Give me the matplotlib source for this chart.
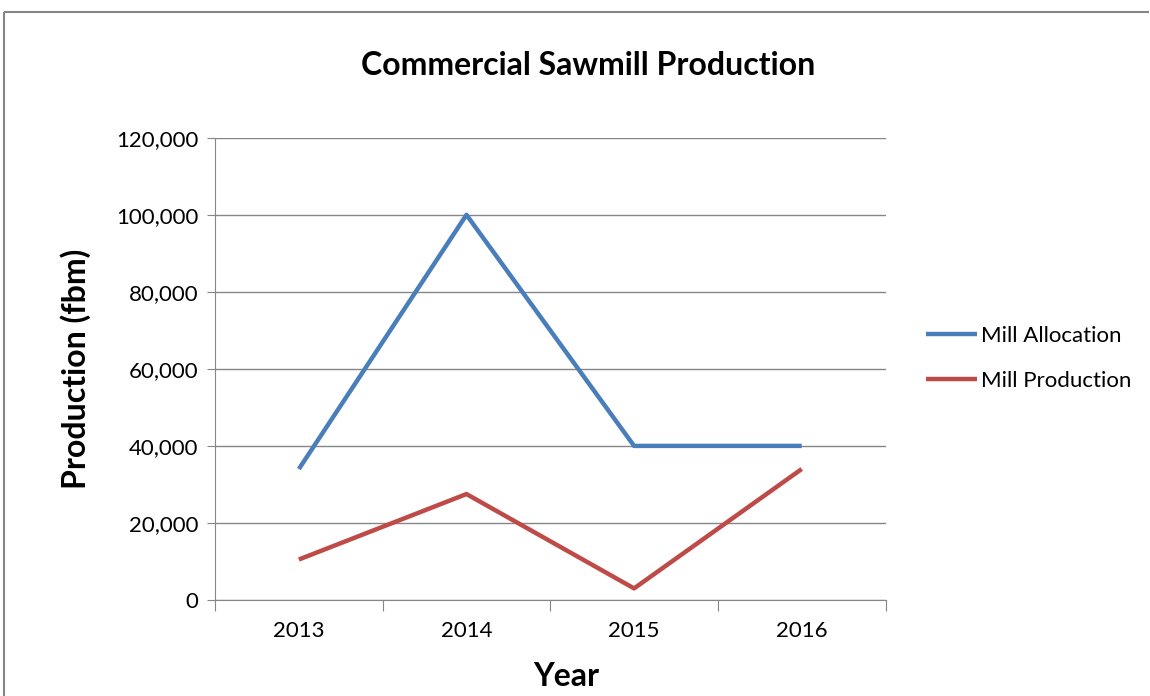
import numpy as np
import matplotlib.pyplot as plt
from matplotlib.lines import Line2D
from matplotlib.ticker import FuncFormatter

years = ["2013", "2014", "2015", "2016"]
mill_allocation = [34000, 100000, 40000, 40000]
mill_production = [10500, 27500, 3000, 34000]

plt.rcParams['font.family'] = ['Lato', 'DejaVu Sans']

fig = plt.figure(figsize=(11.5, 6.96), dpi=100)
ax = fig.add_axes([0.187, 0.138, 0.583, 0.664])

pos = np.arange(len(years)) + 0.5
ax.plot(pos, mill_allocation, color='#4A7EBB', lw=3.2, label="Mill Allocation",
        solid_capstyle='butt')
ax.plot(pos, mill_production, color='#BE4B48', lw=3.2, label="Mill Production",
        solid_capstyle='butt')

ax.set_xlim(0, len(years))
ax.set_ylim(0, 120000)
ax.set_yticks(np.arange(0, 120001, 20000))
ax.yaxis.set_major_formatter(FuncFormatter(lambda v, p: "{:,.0f}".format(v)))
ax.set_xticks(np.arange(0, len(years) + 1))
ax.set_xticklabels([])
ax.set_xticks(pos, minor=True)
ax.set_xticklabels(years, minor=True)
ax.tick_params(axis='x', which='major', length=8, direction='out', color='#868686')
ax.tick_params(axis='x', which='minor', length=0, pad=15, labelsize=16)
ax.tick_params(axis='y', length=6, color='#868686', labelsize=16, pad=6)

ax.grid(axis='y', color='#868686', lw=1)
ax.set_axisbelow(True)
for side in ['top', 'right']:
    ax.spines[side].set_visible(False)
for side in ['left', 'bottom']:
    ax.spines[side].set_color('#868686')

# title sits centred over the whole chart area, not just the plot
ax.set_title("Commercial Sawmill Production", fontsize=23, fontweight='bold',
             pad=45, x=0.557)
ax.set_xlabel("Year", fontsize=23, fontweight='bold', labelpad=15, x=0.524)
ax.set_ylabel("Production (fbm)", fontsize=23, fontweight='bold', labelpad=18)

ax.legend(loc='center left', bbox_to_anchor=(1.06, 0.522), frameon=False,
          borderpad=0, borderaxespad=0,
          fontsize=16, handlelength=2.3, handletextpad=0.2, labelspacing=1.12)

# outer chart frame
fig.add_artist(Line2D([0.0035, 0.999], [0.983, 0.983], color='#868686', lw=1.5,
                      solid_capstyle='butt'))
fig.add_artist(Line2D([0.0035, 0.0035], [0.0, 0.983], color='#868686', lw=1.5,
                      solid_capstyle='butt'))

fig.savefig("out.png", dpi=100)
